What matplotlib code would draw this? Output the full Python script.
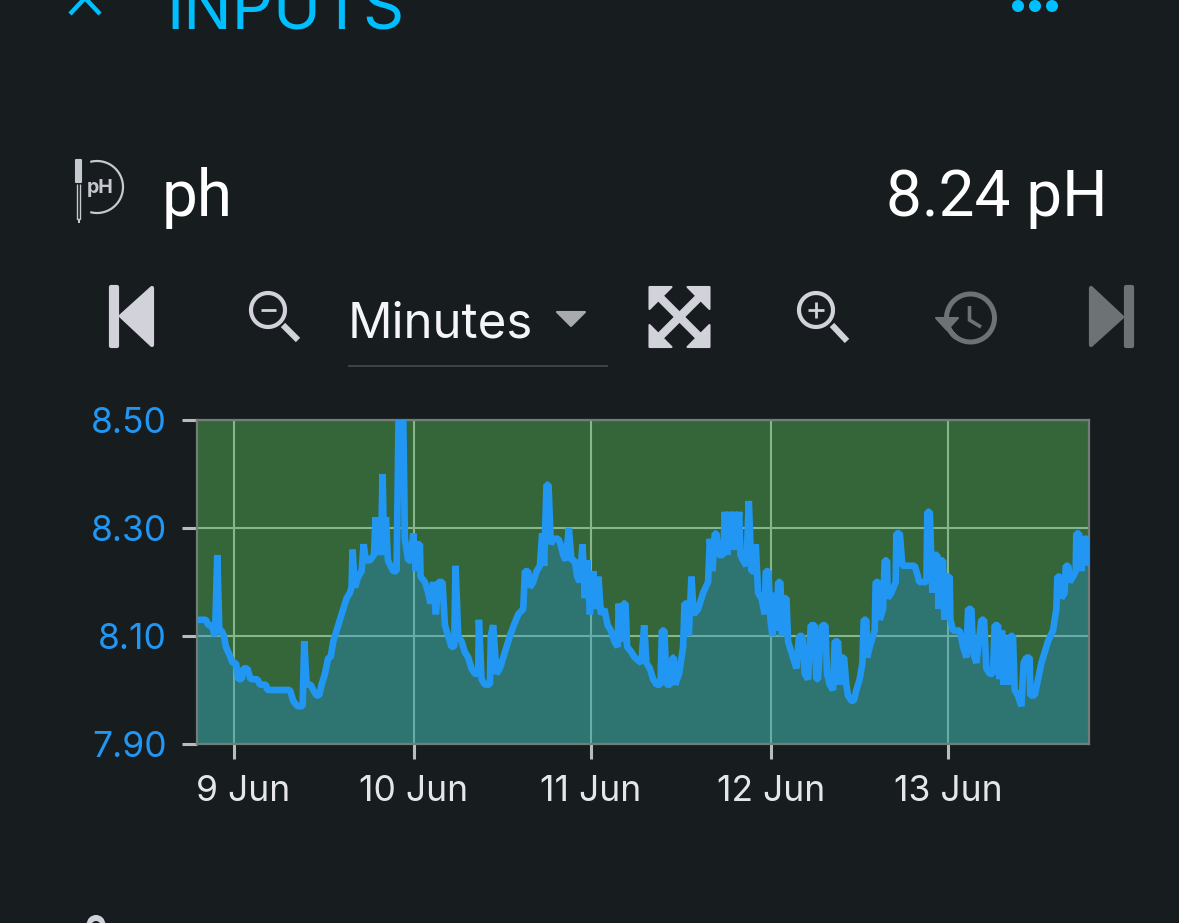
import numpy as np
import matplotlib
matplotlib.use('Agg')
import matplotlib.pyplot as plt
from matplotlib.patches import Polygon, Circle
from matplotlib.transforms import ScaledTranslation

plt.rcParams['font.family'] = ['Inter', 'DejaVu Sans']

# hours since 9 Jun 00:00 and the pH reading at that time
hours = [-4.93, -3.76, -3.45, -3.0, -2.78, -2.55, -2.24, -1.97, -1.66, -1.34, -1.08, -0.76, -0.45, -0.18, 0.27,
         0.58, 1.03, 1.25, 1.79, 2.24, 2.37, 3.14, 3.49, 4.3, 4.48, 7.53, 7.97, 8.51, 9.23, 9.45,
         9.77, 10.3, 10.66, 11.11, 11.47, 11.78, 12.23, 12.68, 12.99, 13.35, 13.8, 14.25, 14.69, 15.14, 15.59,
         15.81, 15.95, 16.26, 16.71, 17.16, 17.43, 17.74, 18.28, 18.82, 19.04, 19.26, 19.44, 19.76, 19.98, 20.2,
         20.43, 20.7, 21.06, 21.41, 21.86, 22.13, 22.44, 22.76, 22.98, 23.43, 23.79, 24.1, 24.46, 24.64, 25.0,
         25.09, 25.67, 26.12, 26.43, 26.79, 27.15, 27.46, 28.04, 28.36, 28.81, 29.25, 29.61, 29.79, 30.15, 30.6,
         31.05, 31.5, 31.94, 32.39, 32.84, 32.93, 33.29, 33.73, 34.41, 34.54, 34.85, 35.3, 35.75, 36.2, 36.65,
         37.1, 37.63, 38.21, 38.89, 39.11, 39.56, 39.78, 40.23, 40.68, 41.13, 41.44, 41.7, 42.02, 42.29, 42.6,
         42.92, 43.6, 43.91, 44.26, 44.62, 45.02, 45.38, 45.82, 46.14, 46.5, 46.86, 47.17, 47.53, 47.85, 48.3,
         48.6, 49.0, 49.34, 49.8, 50.24, 50.69, 51.14, 51.59, 51.74, 52.01, 52.33, 52.64, 52.86, 53.44, 53.89,
         54.77, 55.15, 55.46, 55.91, 56.36, 56.81, 57.35, 57.53, 57.88, 58.15, 58.7, 58.96, 59.14, 59.32, 59.85,
         60.17, 60.39, 60.57, 60.93, 61.15, 61.51, 61.82, 62.41, 63.08, 63.75, 63.98, 64.33, 64.65, 64.87, 65.14,
         65.8, 66.0, 66.31, 66.58, 66.89, 67.24, 67.56, 67.92, 68.1, 68.45, 68.9, 69.22, 69.57, 69.93, 70.15,
         70.47, 70.92, 71.37, 71.5, 71.86, 72.13, 72.4, 72.67, 72.94, 73.17, 73.47, 73.69, 74.01, 74.28, 74.5,
         75.17, 75.62, 75.98, 76.43, 76.74, 77.19, 77.55, 78.09, 78.31, 78.53, 78.76, 79.07, 79.52, 79.74, 80.1,
         80.55, 80.77, 81.22, 81.45, 81.67, 82.03, 82.33, 82.56, 83.0, 83.33, 83.69, 84.13, 84.5, 84.67, 85.03,
         85.12, 85.48, 86.15, 86.28, 86.64, 86.82, 87.27, 87.49, 87.8, 87.9, 88.38, 88.97, 89.06, 89.52, 89.87,
         91.53, 91.97, 92.11, 93.1, 93.23, 93.55, 93.9, 94.08, 94.57, 94.75, 94.97, 95.33, 95.51, 95.78, 96.23,
         96.32, 96.68, 97.58, 98.03, 98.48, 98.7, 99.15, 99.37, 99.82, 100.49, 100.85, 101.16, 101.61, 102.05, 102.28,
         102.73, 102.95, 103.26, 103.49, 103.76, 104.07, 104.38, 104.74, 104.96, 105.41, 105.86, 106.18, 106.54, 106.98, 107.07,
         107.66, 108.11, 108.56, 109.0, 109.45, 110.12, 110.57, 110.71, 111.11, 111.24, 111.69, 111.83, 112.18, 112.36, 112.81,
         113.17, 113.26, 113.62, 113.93, 114.25, 114.7, 114.83]
ph = [8.13, 8.13, 8.12, 8.12, 8.11, 8.10, 8.25, 8.11, 8.11, 8.10, 8.08, 8.07, 8.06, 8.05, 8.05,
      8.02, 8.02, 8.04, 8.04, 8.02, 8.02, 8.02, 8.01, 8.01, 8.00, 8.00, 7.98, 7.97, 7.97, 8.09,
      8.01, 8.01, 8.00, 7.99, 7.99, 8.01, 8.03, 8.06, 8.06, 8.09, 8.11, 8.13, 8.15, 8.17, 8.18,
      8.19, 8.26, 8.19, 8.21, 8.22, 8.27, 8.24, 8.24, 8.25, 8.32, 8.25, 8.32, 8.25, 8.40, 8.25,
      8.32, 8.24, 8.23, 8.22, 8.22, 8.50, 8.50, 8.50, 8.28, 8.24, 8.24, 8.29, 8.22, 8.27, 8.27,
      8.21, 8.20, 8.18, 8.16, 8.20, 8.14, 8.20, 8.20, 8.12, 8.10, 8.08, 8.08, 8.23, 8.10, 8.09,
      8.07, 8.06, 8.04, 8.03, 8.03, 8.13, 8.02, 8.01, 8.01, 8.10, 8.12, 8.03, 8.04, 8.06, 8.08,
      8.10, 8.12, 8.14, 8.15, 8.22, 8.22, 8.19, 8.20, 8.22, 8.23, 8.29, 8.23, 8.38, 8.38, 8.27,
      8.28, 8.28, 8.27, 8.25, 8.24, 8.30, 8.24, 8.24, 8.21, 8.20, 8.27, 8.17, 8.24, 8.14, 8.22,
      8.15, 8.21, 8.14, 8.15, 8.12, 8.11, 8.09, 8.08, 8.16, 8.09, 8.16, 8.16, 8.08, 8.07, 8.06,
      8.05, 8.12, 8.05, 8.04, 8.02, 8.01, 8.01, 8.11, 8.11, 8.01, 8.01, 8.06, 8.06, 8.01, 8.03,
      8.06, 8.08, 8.16, 8.16, 8.10, 8.21, 8.14, 8.15, 8.18, 8.20, 8.28, 8.22, 8.29, 8.29, 8.25,
      8.25, 8.33, 8.25, 8.33, 8.26, 8.33, 8.26, 8.33, 8.25, 8.24, 8.23, 8.35, 8.22, 8.22, 8.27,
      8.18, 8.17, 8.14, 8.22, 8.22, 8.13, 8.10, 8.18, 8.11, 8.20, 8.20, 8.10, 8.17, 8.17, 8.09,
      8.06, 8.04, 8.10, 8.10, 8.03, 8.02, 8.12, 8.12, 8.02, 8.02, 8.08, 8.12, 8.12, 8.03, 8.01,
      8.00, 8.09, 8.09, 8.01, 8.06, 8.06, 8.01, 7.99, 7.98, 7.98, 8.00, 8.02, 8.05, 8.13, 8.13,
      8.06, 8.08, 8.11, 8.20, 8.20, 8.13, 8.15, 8.24, 8.24, 8.17, 8.18, 8.20, 8.29, 8.29, 8.23,
      8.23, 8.21, 8.20, 8.20, 8.33, 8.33, 8.18, 8.25, 8.25, 8.15, 8.24, 8.24, 8.13, 8.21, 8.21,
      8.13, 8.11, 8.11, 8.08, 8.06, 8.15, 8.15, 8.07, 8.05, 8.13, 8.13, 8.04, 8.03, 8.03, 8.12,
      8.12, 8.02, 8.11, 8.01, 8.10, 8.01, 8.10, 8.10, 8.00, 7.99, 7.97, 8.05, 8.06, 8.06, 7.99,
      7.99, 8.02, 8.05, 8.07, 8.09, 8.11, 8.15, 8.21, 8.21, 8.17, 8.18, 8.23, 8.23, 8.20, 8.21,
      8.22, 8.29, 8.29, 8.22, 8.28, 8.28, 8.23]
y_ticks = [7.90, 8.10, 8.30, 8.50]
day_ticks = [0, 24.2, 48, 72.2, 96]
day_labels = ['9 Jun', '10 Jun', '11 Jun', '12 Jun', '13 Jun']

BG = '#171c1f'
BLUE = '#2196f3'
ICON = '#d1d2da'
DIM = '#6d7274'

W, H = 1179, 923
fig = plt.figure(figsize=(W / 100, H / 100), dpi=100, facecolor=BG)

# chart panel
ax = fig.add_axes([197 / W, 1 - 744 / H, (1089 - 197) / W, (744 - 420) / H])
ax.set_facecolor('#34663a')
ax.set_xlim(-4.97, 114.96)
ax.set_ylim(7.90, 8.50)
ax.set_axisbelow(True)
ax.grid(True, color='#85b78a', linewidth=1.5)
ax.fill_between(hours, ph, 7.90, color=BLUE, alpha=0.3, linewidth=0, zorder=2)
ax.plot(hours, ph, color=BLUE, linewidth=4.8, solid_joinstyle='bevel', solid_capstyle='butt', zorder=3)
ax.set_yticks(y_ticks)
ax.set_yticklabels(['%.2f' % v for v in y_ticks], color=BLUE, fontsize=25.5)
ax.set_xticks(day_ticks)
ax.set_xticklabels(day_labels, color='#e4e6ea', fontsize=25.5)
ax.tick_params(axis='both', color='#b9bcbc', width=2.2, length=10.5)
ax.tick_params(axis='y', pad=11)
ax.tick_params(axis='x', pad=11.5)
for s in ax.spines.values():
    s.set_color('#737d78')
    s.set_linewidth(1.6)
# first day label sits a little right of its tick
first = ax.get_xticklabels()[0]
first.set_transform(first.get_transform() + ScaledTranslation(0.09, 0, fig.dpi_scale_trans))

# app chrome, drawn in screen pixels on a full-figure overlay
ui = fig.add_axes([0, 0, 1, 1], facecolor='none')
ui.set_xlim(0, W)
ui.set_ylim(H, 0)
ui.axis('off')


def stroke(xs, ys, color=ICON, lw=3.0, cap='butt'):
    ui.plot(xs, ys, color=color, linewidth=lw, solid_capstyle=cap, solid_joinstyle='miter')


def fill(points, color=ICON, lw=1.5):
    ui.add_patch(Polygon(points, closed=True, facecolor=color, edgecolor=color, linewidth=lw, joinstyle='round'))


def ring(cx, cy, r, start, end, color=ICON, lw=3.0):
    a = np.radians(np.linspace(start, end, 80))
    stroke(cx + r * np.cos(a), cy + r * np.sin(a), color, lw)


CYAN = '#00bfff'
ui.text(166, 30, 'INPUTS', color=CYAN, fontsize=46.5, ha='left', va='baseline')
stroke([70, 85, 100], [14, -2, 14], CYAN, 3.2)
for x in [1018, 1035, 1052]:
    ui.add_patch(Circle((x, 6), 6, facecolor=CYAN, edgecolor='none'))

# sensor row
ui.text(162, 216, 'ph', color='white', fontsize=46, family='Roboto', ha='left', va='baseline')
ui.text(1108, 216, '8.24 pH', color='white', fontsize=46, family='Roboto', ha='right', va='baseline')
ring(97, 187, 26, -105, 105, '#c8c9d0', 1.6)
fill([(76, 160), (81, 160), (81, 182), (76, 182)], '#c8c9d0')
stroke([77, 77, 80, 80], [184, 219, 219, 184], '#c8c9d0', 1.0)
stroke([78.5, 78.5], [219, 223], '#c8c9d0', 1.4)
ui.text(100, 188, 'pH', color='#c8c9d0', fontsize=14, fontweight='bold', ha='center', va='center')

# toolbar
fill([(111, 287), (117, 287), (117, 346), (111, 346)], ICON, 3)
fill([(121, 316), (152, 288), (152, 345)], ICON, 3)
ring(268, 310, 17, 0, 360, ICON, 3.0)
stroke([261, 276], [310, 310], ICON, 2.0)
stroke([283, 298], [325, 340], ICON, 4.4)
ui.text(348, 337, 'Minutes', color='#f4f5f7', fontsize=35.5, ha='left', va='baseline')
fill([(557, 312), (585, 312), (571, 326)], '#a9aab0')
stroke([348, 608], [366, 366], '#4a4d52', 1.1)

cx, cy = 679.5, 317
for sx, sy in [(-1, -1), (1, -1), (-1, 1), (1, 1)]:
    stroke([cx, cx + sx * 22], [cy, cy + sy * 22], ICON, 6.0)
    fill([(cx + sx * 30, cy + sy * 30), (cx + sx * 8, cy + sy * 30), (cx + sx * 30, cy + sy * 8)])
ring(816, 310, 17, 0, 360, ICON, 3.0)
stroke([808, 824], [310, 310], ICON, 2.0)
stroke([816, 816], [302, 318], ICON, 2.0)
stroke([832, 847], [325, 341], ICON, 4.4)
ring(970.5, 318, 24, 125, 360 + 175, DIM, 3.6)
fill([(936, 318), (958, 318), (947, 330)], DIM)
stroke([969.5, 969.5, 981], [306, 320, 327], DIM, 2.6)
fill([(1091, 288), (1122, 317), (1091, 345)], DIM, 3)
fill([(1126, 287), (1132, 287), (1132, 346), (1126, 346)], DIM, 3)

# top of the next row's icon, cut by the bottom edge
ui.add_patch(Circle((96, 924.3), 9.3, facecolor=ICON, edgecolor='none'))
ui.add_patch(Circle((96, 925.5), 4.5, facecolor=BG, edgecolor='none'))

fig.savefig('out.png', dpi=100, facecolor=BG)
